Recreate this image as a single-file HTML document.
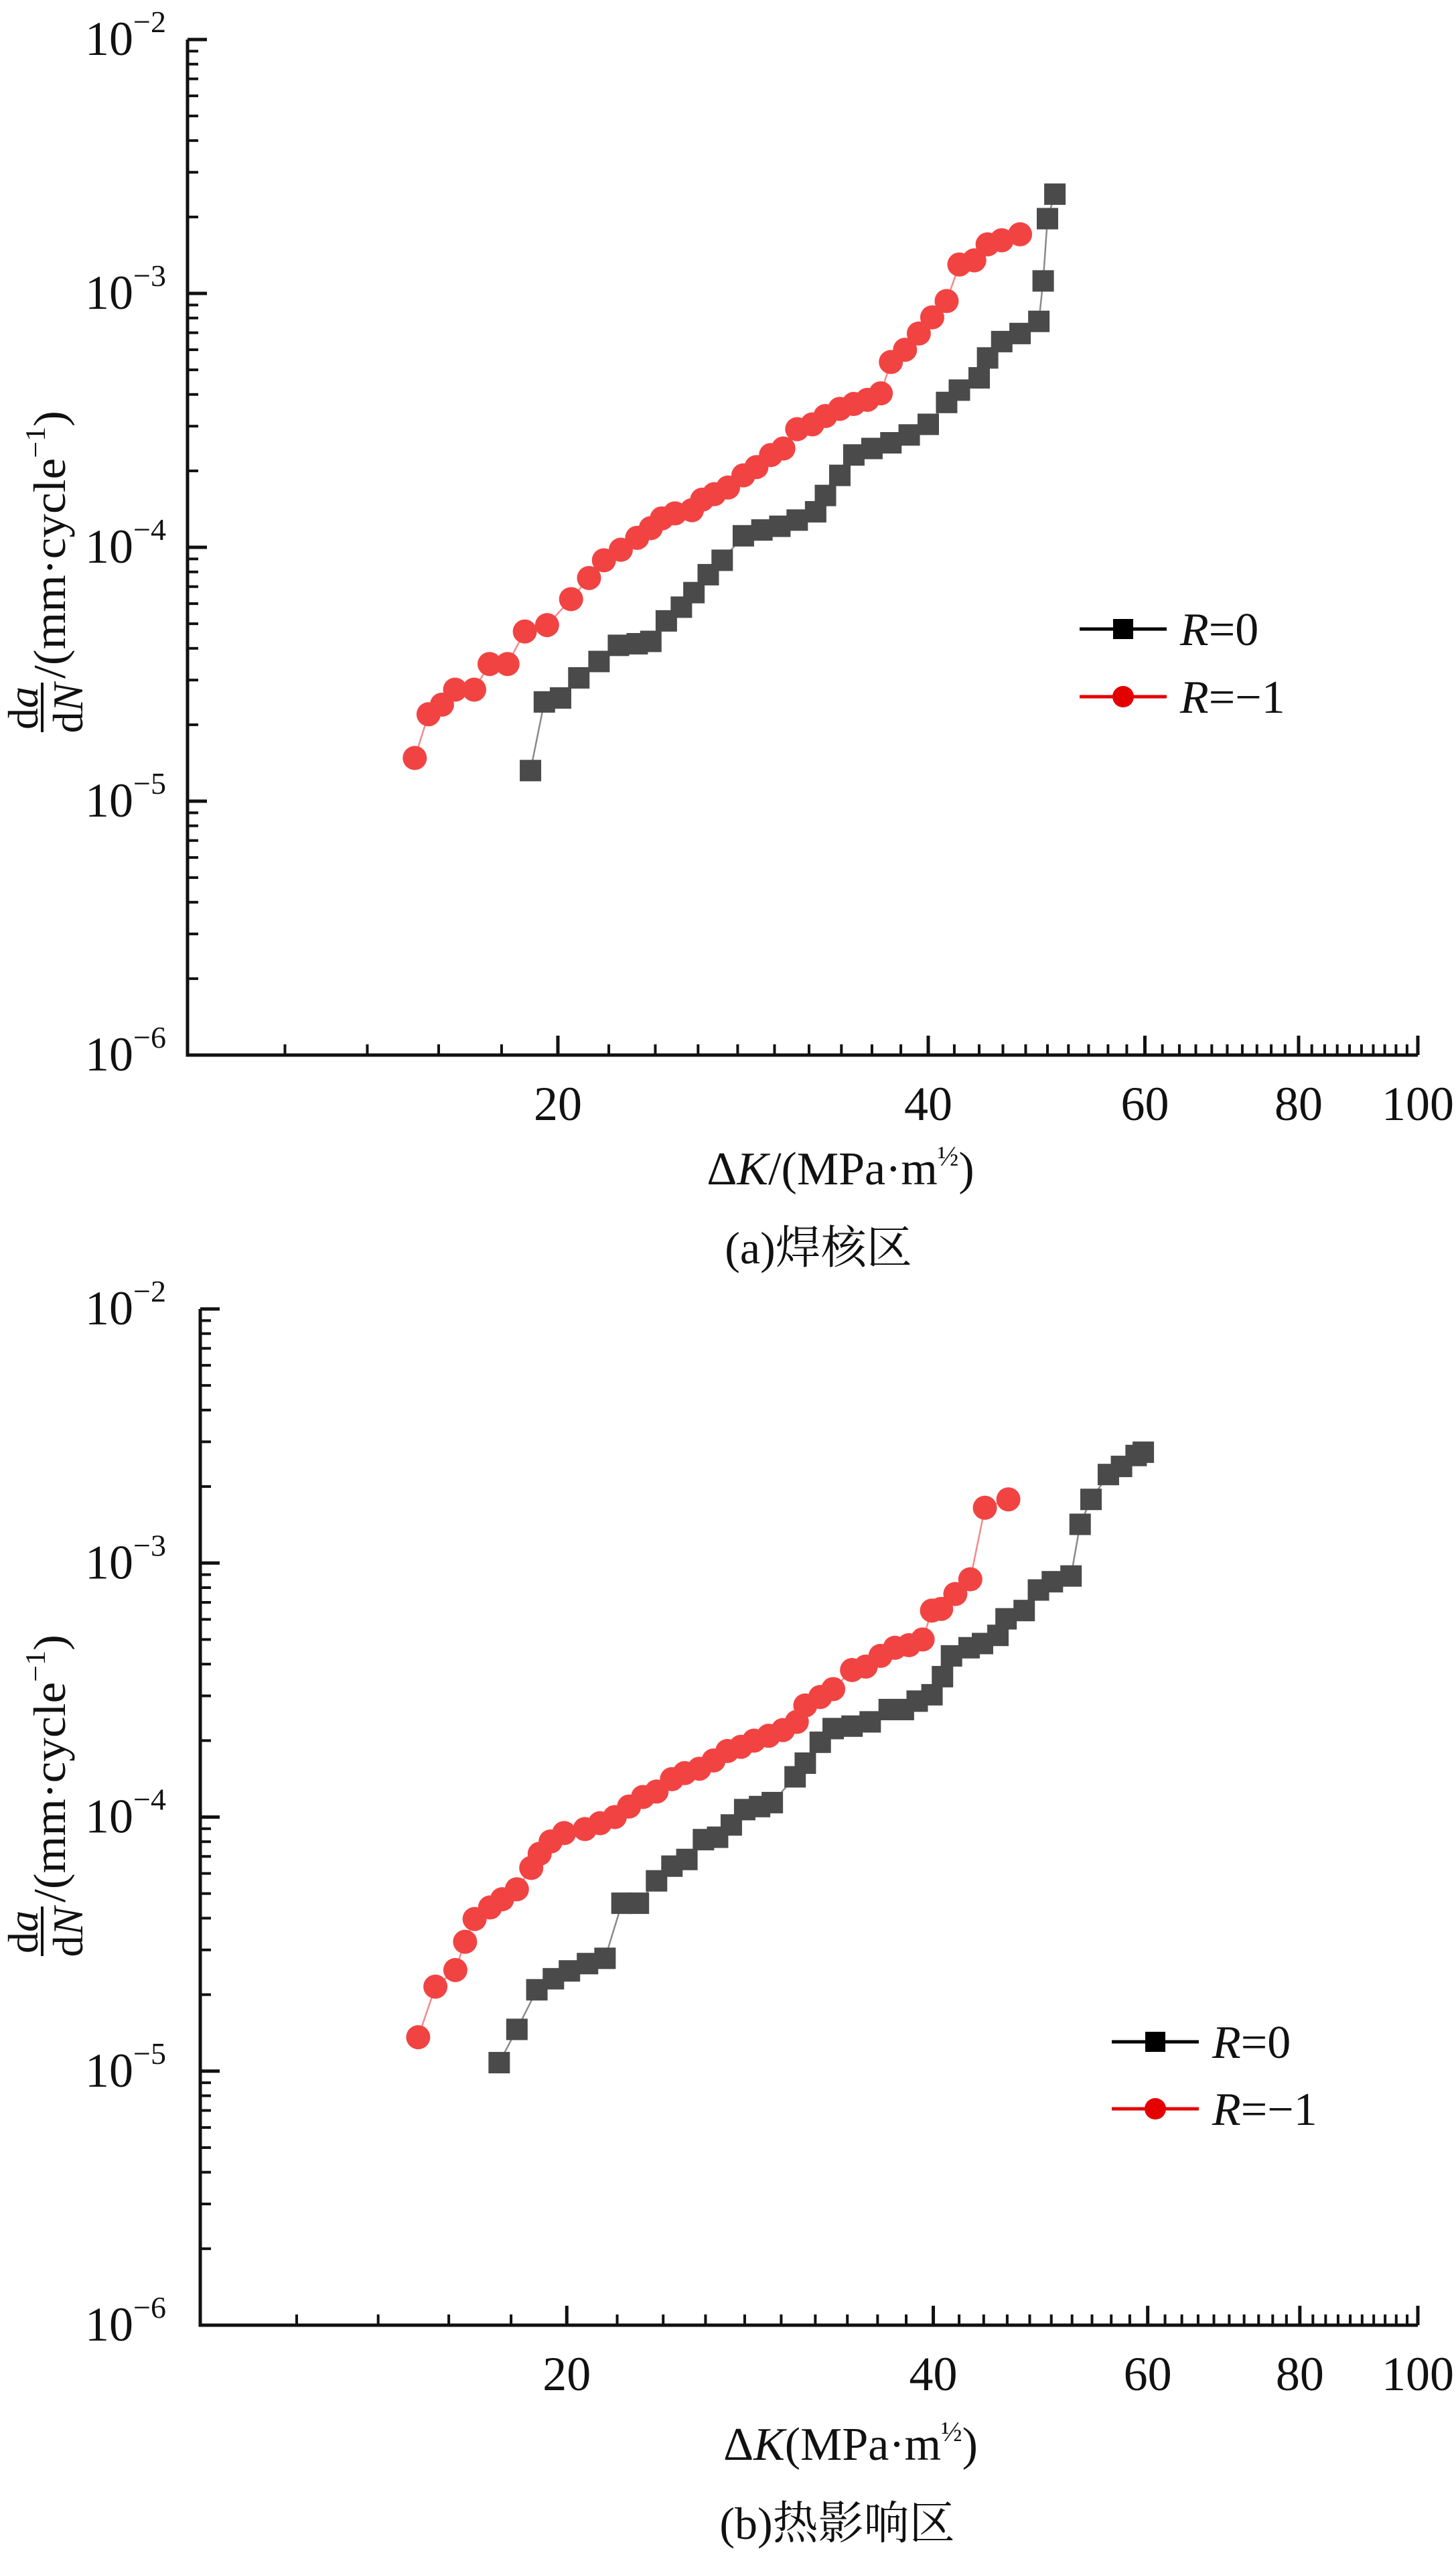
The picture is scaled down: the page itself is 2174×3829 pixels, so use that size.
<!DOCTYPE html>
<html><head><meta charset="utf-8"><style>
html,body{margin:0;padding:0;background:#fff;}
svg{display:block;font-family:"Liberation Serif","Noto Serif CJK SC",serif;}
</style></head><body>
<svg id="fig" width="2174" height="3829" viewBox="0 0 2174 3829" xmlns="http://www.w3.org/2000/svg"></svg>
<script>
// Panel (a) data
const aR0K = [19.0,19.5,20.1,20.8,21.6,22.4,23.2,23.8,24.5,25.2,25.8,26.5,27.2,28.3,29.3,30.3,31.3,32.4,33.0,33.9,34.8,36.0,37.3,38.6,40.0,41.4,42.4,44.0,44.7,45.9,47.5,49.2,49.6,50.0,50.7];
const aR0V = [1.32e-5,2.46e-5,2.55e-5,3.06e-5,3.55e-5,4.11e-5,4.17e-5,4.26e-5,5.13e-5,5.81e-5,6.63e-5,7.80e-5,8.89e-5,1.11e-4,1.17e-4,1.21e-4,1.28e-4,1.38e-4,1.60e-4,1.92e-4,2.31e-4,2.45e-4,2.58e-4,2.77e-4,3.05e-4,3.72e-4,4.16e-4,4.65e-4,5.57e-4,6.46e-4,6.95e-4,7.76e-4,1.12e-3,1.97e-3,2.46e-3];
const aRm1K = [15.3,15.7,16.1,16.5,17.1,17.6,18.2,18.8,19.6,20.5,21.2,21.8,22.5,23.2,23.8,24.3,24.9,25.7,26.2,26.8,27.5,28.3,29.0,29.8,30.5,31.3,32.2,33.0,33.9,34.8,35.7,36.6,37.3,38.3,39.3,40.3,41.4,42.4,43.6,44.7,45.9,47.5];
const aRm1V = [1.48e-5,2.20e-5,2.40e-5,2.75e-5,2.75e-5,3.47e-5,3.47e-5,4.66e-5,4.94e-5,6.25e-5,7.57e-5,8.89e-5,9.78e-5,1.09e-4,1.19e-4,1.30e-4,1.36e-4,1.40e-4,1.54e-4,1.62e-4,1.72e-4,1.92e-4,2.07e-4,2.31e-4,2.45e-4,2.92e-4,3.05e-4,3.29e-4,3.51e-4,3.67e-4,3.81e-4,4.04e-4,5.37e-4,6.00e-4,6.95e-4,8.05e-4,9.33e-4,1.30e-3,1.35e-3,1.56e-3,1.62e-3,1.71e-3];
// Panel (b) data
const bR0K = [17.6,18.2,18.9,19.5,20.1,20.8,21.5,22.2,22.9,23.7,24.4,25.1,25.9,26.6,27.3,28.0,28.8,29.5,30.8,31.4,32.3,33.1,34.3,35.5,36.8,37.8,38.8,39.9,40.7,41.4,42.8,43.9,45.2,45.9,47.5,48.8,50.1,51.9,52.8,53.9,55.7,57.1,58.7,59.5];
const bR0V = [1.08e-5,1.46e-5,2.09e-5,2.31e-5,2.48e-5,2.65e-5,2.78e-5,4.58e-5,4.58e-5,5.61e-5,6.41e-5,6.81e-5,8.15e-5,8.33e-5,9.31e-5,1.07e-4,1.10e-4,1.14e-4,1.44e-4,1.63e-4,1.97e-4,2.23e-4,2.28e-4,2.37e-4,2.65e-4,2.65e-4,2.86e-4,3.03e-4,3.57e-4,4.31e-4,4.64e-4,4.82e-4,5.19e-4,6.03e-4,6.50e-4,7.83e-4,8.44e-4,8.89e-4,1.42e-3,1.78e-3,2.23e-3,2.40e-3,2.65e-3,2.73e-3];
const bRm1K = [15.1,15.6,16.2,16.5,16.8,17.3,17.7,18.2,18.7,19.0,19.4,19.9,20.7,21.3,21.9,22.5,23.1,23.7,24.4,25.0,25.7,26.4,27.1,27.8,28.5,29.3,30.1,30.9,31.4,32.3,33.1,34.3,35.2,36.2,37.2,38.2,39.2,39.9,40.6,41.7,42.9,44.1,46.1];
const bRm1V = [1.36e-5,2.15e-5,2.50e-5,3.23e-5,3.97e-5,4.41e-5,4.75e-5,5.20e-5,6.31e-5,7.17e-5,8.02e-5,8.65e-5,8.97e-5,9.46e-5,1.00e-4,1.10e-4,1.20e-4,1.26e-4,1.41e-4,1.49e-4,1.55e-4,1.67e-4,1.82e-4,1.89e-4,2.00e-4,2.09e-4,2.20e-4,2.37e-4,2.75e-4,2.97e-4,3.19e-4,3.79e-4,3.91e-4,4.31e-4,4.64e-4,4.75e-4,5.00e-4,6.50e-4,6.60e-4,7.55e-4,8.63e-4,1.65e-3,1.78e-3];
const xMajor = [20,40,60,80,100];
const xMinor = [12,14,16,18,22,24,26,28,30,32,34,36,38,42,44,46,48,50,52,54,56,58,62,64,66,68,70,72,74,76,78,82,84,86,88,90,92,94,96,98];
const yExp = [-2,-3,-4,-5,-6];

const NS = "http://www.w3.org/2000/svg";
const svg = document.getElementById('fig');
function mk(tag, attrs, parent){
  const e = document.createElementNS(NS, tag);
  for (const k in attrs) e.setAttribute(k, attrs[k]);
  (parent||svg).appendChild(e);
  return e;
}

function panel(p){
  const g = mk('g', {});
  
  
  const xs = k => p.x0 + p.xw * (Math.log10(k) - 1);
  const ys = v => p.yTop + p.dec * (-2 - Math.log10(v));
  const yBot = ys(1e-6), xR = xs(100);
  // axes
  const ax = mk('path', {d:`M${p.x0},${p.yTop} L${p.x0},${yBot} L${xR},${yBot}`, fill:'none', stroke:'#111', 'stroke-width':5}, g);
  
  
  // y ticks
  yExp.forEach(e => {
    const y = ys(Math.pow(10, e));
    mk('line', {x1:p.x0, x2:p.x0+29, y1:y, y2:y, stroke:'#111','stroke-width':5}, g);
    const t = mk('text', {x:248, y:y+23, 'font-size':72, 'text-anchor':'end', fill:'#111'}, g);
    
    
    t.innerHTML = '10<tspan font-size="46" dy="-34">\u2212' + (-e) + '</tspan>';
    if (e > -6) for (let m = 2; m <= 9; m++){
      const ym = ys(m * Math.pow(10, e - 1));
      mk('line', {x1:p.x0, x2:p.x0+16, y1:ym, y2:ym, stroke:'#111','stroke-width':4}, g);
    }
  });
  // x ticks
  xMinor.forEach(k => { const x = xs(k); mk('line', {x1:x,x2:x,y1:yBot,y2:yBot-16,stroke:'#111','stroke-width':4}, g); });
  xMajor.forEach(k => {
    const x = xs(k);
    mk('line', {x1:x,x2:x,y1:yBot,y2:yBot-29,stroke:'#111','stroke-width':5}, g);
    const t = mk('text', {x:x, y:yBot+97, 'font-size':72, 'text-anchor':'middle', fill:'#111'}, g);
    
    
    t.textContent = k;
  });
  // series
  function series(K, V, color, lineColor, shape, name){
    const sg = mk('g', {}, g);
    
    
    mk('polyline', {points: K.map((k,i)=>xs(k)+','+ys(V[i])).join(' '), fill:'none', stroke:lineColor, 'stroke-width':2.5}, sg);
    K.forEach((k,i) => {
      const x = xs(k), y = ys(V[i]);
      let m;
      if (shape === 'sq') m = mk('rect', {x:x-16, y:y-16, width:32, height:32, fill:color}, sg);
      else m = mk('circle', {cx:x, cy:y, r:18, fill:color}, sg);
      
      
    });
  }
  series(p.r0K, p.r0V, '#4a4a4a', '#8a8a8a', 'sq', 'series-r0');
  series(p.rmK, p.rmV, '#f24343', '#f28a8a', 'ci', 'series-r-minus1');
  // legend
  const lg = mk('g', {}, g);
  
  
  [[p.lgY0,'#000','sq','=0'],[p.lgY1,'#e50000','ci','=\u22121']].forEach(r => {
    const [y,c,s,txt] = r;
    mk('line', {x1:p.lgX, x2:p.lgX+130, y1:y, y2:y, stroke:c, 'stroke-width':5}, lg);
    const cx = p.lgX+65;
    if (s==='sq') mk('rect', {x:cx-15,y:y-15,width:30,height:30,fill:c}, lg);
    else mk('circle', {cx:cx, cy:y, r:16, fill:c}, lg);
    const t = mk('text', {x:p.lgX+150, y:y+24, 'font-size':70, fill:'#111'}, lg);
    
    
    t.innerHTML = '<tspan font-style="italic">R</tspan>' + txt;
  });
  // y title
  const yt = mk('g', {transform:`translate(0,${p.ytY}) rotate(-90)`}, g);
  
  
  mk('text', {x:40, y:56, 'font-size':64, 'text-anchor':'middle', fill:'#111'}, yt).innerHTML = 'd<tspan font-style="italic">a</tspan>';
  mk('line', {x1:4, x2:78, y1:63, y2:63, stroke:'#111','stroke-width':4}, yt);
  mk('text', {x:40, y:123, 'font-size':64, 'text-anchor':'middle', fill:'#111'}, yt).innerHTML = 'd<tspan font-style="italic">N</tspan>';
  mk('text', {x:84, y:97, 'font-size':68, fill:'#111', textLength:400, lengthAdjust:'spacingAndGlyphs'}, yt).innerHTML = '/(mm\u00b7cycle<tspan font-size="42" dy="-30">\u22121</tspan><tspan dy="30">)</tspan>';
  // x title
  const xt = mk('text', {x:p.xtX, y:p.xtY, 'font-size':70, fill:'#111', 'text-anchor':'middle'}, g);
  
  
  xt.innerHTML = '\u0394<tspan font-style="italic">K</tspan>' + p.xtSep + '(MPa\u00b7m<tspan font-size="42" dy="-28">\u00bd</tspan><tspan dy="28">)</tspan>';
  // caption
  const cp = mk('text', {x:p.capX, y:p.capY, 'font-size':68, fill:'#111', 'text-anchor':'middle'}, g);
  
  
  cp.textContent = p.cap;
}

panel({id:'a', x0:280, xw:1837, yTop:59, dec:379, r0K:aR0K, r0V:aR0V, rmK:aRm1K, rmV:aRm1V,
  lgX:1612, lgY0:939, lgY1:1040, ytY:1097, xtX:1255, xtY:1768, xtSep:'/', capX:1222, capY:1886, cap:'(a)焊核区'});
panel({id:'b', x0:299, xw:1818, yTop:1954, dec:379.25, r0K:bR0K, r0V:bR0V, rmK:bRm1K, rmV:bRm1V,
  lgX:1660, lgY0:3048, lgY1:3148, ytY:2924, xtX:1270, xtY:3672, xtSep:'', capX:1250, capY:3790, cap:'(b)热影响区'});
</script>
</body></html>
